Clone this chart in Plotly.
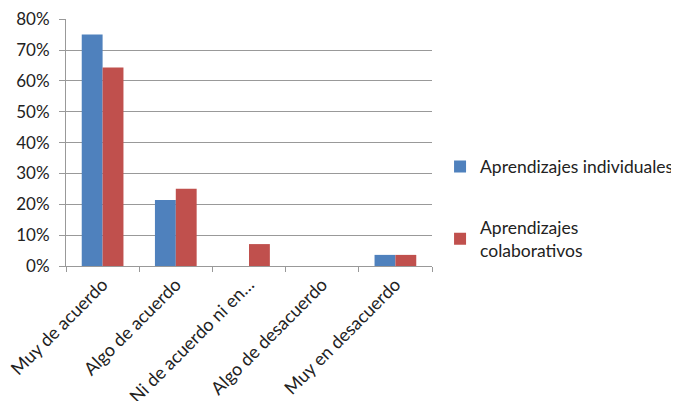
import plotly.graph_objects as go

categories = ["Muy de acuerdo", "Algo de acuerdo", "Ni de acuerdo ni en…",
              "Algo de desacuerdo", "Muy en desacuerdo"]
individuales = [0.75, 0.214, 0.0, 0.0, 0.036]
colaborativos = [0.643, 0.25, 0.071, 0.0, 0.036]
series_names = ["Aprendizajes individuales", "Aprendizajes<br>colaborativos"]
y_ticks = [0, 0.1, 0.2, 0.3, 0.4, 0.5, 0.6, 0.7, 0.8]

FONT = "Lato, Open Sans, sans-serif"

fig = go.Figure()
fig.add_trace(go.Bar(x=categories, y=individuales, name=series_names[0],
                     marker=dict(color="#4F81BD", line=dict(width=0)),
                     legendgroup="a"))
fig.add_trace(go.Bar(x=categories, y=colaborativos, name=series_names[1],
                     marker=dict(color="#C0504D", line=dict(width=0)),
                     legendgroup="b"))

fig.update_layout(
    width=671, height=393,
    margin=dict(l=58, r=247, t=11, b=135, autoexpand=False),
    paper_bgcolor="white", plot_bgcolor="white",
    barmode="group", bargap=0.43, bargroupgap=0,
    font=dict(family=FONT, size=17, color="#222222"),
    legend=dict(x=1.022, y=0.475, xanchor="left", yanchor="top",
                traceorder="grouped", tracegroupgap=35,
                font=dict(family=FONT, size=17.5, color="#222222"),
                itemwidth=30, bgcolor="rgba(0,0,0,0)"),
    xaxis=dict(showline=True, linecolor="#999999", linewidth=1,
               ticks="outside", ticklen=5, tickcolor="#999999",
               tickson="boundaries", tickangle=-45, automargin=False,
               tickfont=dict(family=FONT, size=18, color="#222222"),
               showgrid=False),
    yaxis=dict(range=[0, 0.8005], tickvals=y_ticks, tickformat=".0%",
               showline=True, linecolor="#999999", linewidth=1,
               ticks="outside", ticklen=6, tickcolor="#999999",
               ticklabelstandoff=6,
               gridcolor="#999999", gridwidth=1, automargin=False,
               tickfont=dict(family=FONT, size=17, color="#222222"),
               zeroline=False),
)

fig.write_html("out.html")
